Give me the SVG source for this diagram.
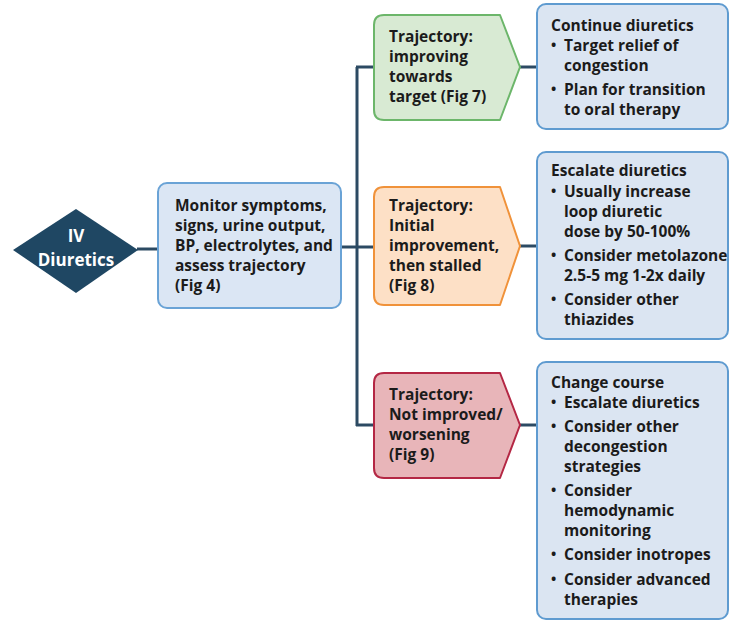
<svg xmlns="http://www.w3.org/2000/svg" width="730" height="622" viewBox="0 0 730 622">
  <style>
    text { font-family: "Open Sans", "Liberation Sans", sans-serif; font-weight: 700; font-size: 15.5px; fill: #1b1b1b; font-variant-ligatures: none; }
    .dot { font-size: 14px; }
    .start { fill: #1f4763; }
    .start-label { fill: #ffffff; text-anchor: middle; font-size: 17px; }
    .monitor { fill: #dbe6f4; stroke: #6aa3d6; stroke-width: 2; }
    .action { fill: #dbe5f2; stroke: #5f9bd0; stroke-width: 2; }
    .good { fill: #d8ead3; stroke: #6cb66a; stroke-width: 2; stroke-linejoin: round; }
    .stalled { fill: #fde0c6; stroke: #f0923a; stroke-width: 2; stroke-linejoin: round; }
    .worse { fill: #e8b5b9; stroke: #b42744; stroke-width: 2; stroke-linejoin: round; }
    .link { fill: none; stroke: #2c4a63; stroke-width: 3; }
  </style>

  <!-- connectors -->
  <g id="connectors">
    <line class="link" x1="137" y1="249" x2="158" y2="249"/>
    <line class="link" x1="341" y1="247" x2="357" y2="247"/>
    <line class="link" x1="357" y1="67" x2="357" y2="426"/>
    <line class="link" x1="356" y1="67" x2="374" y2="67"/>
    <line class="link" x1="356" y1="247" x2="374" y2="247"/>
    <line class="link" x1="356" y1="425" x2="374" y2="425"/>
    <line class="link" x1="520" y1="67" x2="537" y2="67"/>
    <line class="link" x1="520" y1="246" x2="537" y2="246"/>
    <line class="link" x1="520" y1="425" x2="537" y2="425"/>
  </g>

  <!-- start diamond -->
  <g id="iv-diuretics">
    <polygon class="start" points="13,250 76,209 138,250 76,293"/>
    <text class="start-label" x="76" y="242">IV</text>
    <text class="start-label" x="76" y="266">Diuretics</text>
  </g>

  <!-- monitoring step -->
  <g id="monitor">
    <rect class="monitor" x="158" y="183" width="183" height="125" rx="9"/>
    <text x="175" y="211">Monitor symptoms,</text>
    <text x="175" y="231">signs, urine output,</text>
    <text x="175" y="251">BP, electrolytes, and</text>
    <text x="175" y="271">assess trajectory</text>
    <text x="175" y="291">(Fig 4)</text>
  </g>

  <!-- trajectory: improving -->
  <g id="traj-improving">
    <path class="good" d="M384,15 L500,15 L520,67 L500,120 L384,120 Q374,120 374,110 L374,25 Q374,15 384,15 Z"/>
    <text x="389" y="42">Trajectory:</text>
    <text x="389" y="62">improving</text>
    <text x="389" y="82">towards</text>
    <text x="389" y="102">target (Fig 7)</text>
  </g>

  <!-- trajectory: stalled -->
  <g id="traj-stalled">
    <path class="stalled" d="M384,187 L500,187 L520,246 L500,305 L384,305 Q374,305 374,295 L374,197 Q374,187 384,187 Z"/>
    <text x="389" y="211">Trajectory:</text>
    <text x="389" y="231">Initial</text>
    <text x="389" y="251">improvement,</text>
    <text x="389" y="271">then stalled</text>
    <text x="389" y="291">(Fig 8)</text>
  </g>

  <!-- trajectory: not improved -->
  <g id="traj-worsening">
    <path class="worse" d="M384,373 L500,373 L520,425 L500,478 L384,478 Q374,478 374,468 L374,383 Q374,373 384,373 Z"/>
    <text x="389" y="400">Trajectory:</text>
    <text x="389" y="420">Not improved/</text>
    <text x="389" y="440">worsening</text>
    <text x="389" y="460">(Fig 9)</text>
  </g>

  <!-- action: continue -->
  <g id="continue-diuretics">
    <rect class="action" x="537" y="4" width="191" height="125" rx="9"/>
    <text x="551" y="31">Continue diuretics</text>
    <text class="dot" x="551" y="50">•</text><text x="564" y="51">Target relief of</text>
    <text x="564" y="71">congestion</text>
    <text class="dot" x="551" y="94">•</text><text x="564" y="95">Plan for transition</text>
    <text x="564" y="115">to oral therapy</text>
  </g>

  <!-- action: escalate -->
  <g id="escalate-diuretics">
    <rect class="action" x="537" y="152" width="191" height="187" rx="9"/>
    <text x="551" y="176">Escalate diuretics</text>
    <text class="dot" x="551" y="196">•</text><text x="564" y="197">Usually increase</text>
    <text x="564" y="217">loop diuretic</text>
    <text x="564" y="237">dose by 50-100%</text>
    <text class="dot" x="551" y="260">•</text><text x="564" y="261">Consider metolazone</text>
    <text x="564" y="281">2.5-5 mg 1-2x daily</text>
    <text class="dot" x="551" y="304">•</text><text x="564" y="305">Consider other</text>
    <text x="564" y="325">thiazides</text>
  </g>

  <!-- action: change course -->
  <g id="change-course">
    <rect class="action" x="537" y="362" width="191" height="257" rx="9"/>
    <text x="551" y="388">Change course</text>
    <text class="dot" x="551" y="407">•</text><text x="564" y="408">Escalate diuretics</text>
    <text class="dot" x="551" y="431">•</text><text x="564" y="432">Consider other</text>
    <text x="564" y="452">decongestion</text>
    <text x="564" y="472">strategies</text>
    <text class="dot" x="551" y="495">•</text><text x="564" y="496">Consider</text>
    <text x="564" y="516">hemodynamic</text>
    <text x="564" y="536">monitoring</text>
    <text class="dot" x="551" y="559">•</text><text x="564" y="560">Consider inotropes</text>
    <text class="dot" x="551" y="584">•</text><text x="564" y="585">Consider advanced</text>
    <text x="564" y="605">therapies</text>
  </g>
</svg>
